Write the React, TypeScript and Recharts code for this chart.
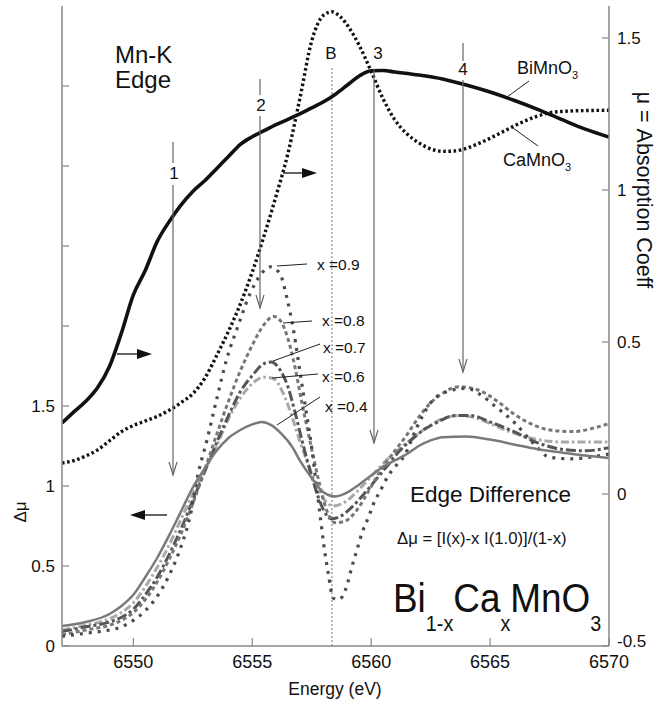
import { LineChart, Line, XAxis, YAxis, ReferenceLine } from "recharts"

// energy axis (eV) and the two vertical scales
const energyTicks = [6550, 6555, 6560, 6565, 6570]
const energyTopTicks = [6550, 6555, 6560, 6565]
const muTicks = [-0.5, 0, 0.5, 1, 1.5]
const deltaTicks = [0, 0.5, 1, 1.5, 2, 2.5, 3, 3.5]
const deltaLabelled = [0, 0.5, 1, 1.5]

// mu (right axis): end members
const biMnO3: [number, number][] = [
  [6547, 0.234], [6547.5, 0.27], [6548, 0.305], [6548.5, 0.35], [6549, 0.42], [6549.5, 0.53],
  [6550, 0.655], [6550.5, 0.735], [6551, 0.83], [6551.5, 0.895], [6552, 0.95], [6552.5, 0.995],
  [6553, 1.03], [6553.5, 1.07], [6554, 1.11], [6554.5, 1.15], [6555, 1.175], [6555.5, 1.195],
  [6556, 1.215], [6556.5, 1.232], [6557, 1.25], [6557.5, 1.27], [6558, 1.29], [6558.5, 1.315],
  [6559, 1.345], [6559.5, 1.375], [6560, 1.392], [6560.5, 1.393], [6561, 1.388], [6562, 1.378],
  [6563, 1.365], [6564, 1.345], [6565, 1.322], [6566, 1.295], [6567, 1.265], [6568, 1.232],
  [6569, 1.2], [6570, 1.174],
]

const caMnO3: [number, number][] = [
  [6547, 0.102], [6547.5, 0.11], [6548, 0.125], [6548.5, 0.145], [6549, 0.175], [6549.5, 0.205],
  [6550, 0.225], [6550.5, 0.24], [6551, 0.255], [6551.5, 0.275], [6552, 0.3], [6552.5, 0.33],
  [6553, 0.38], [6553.5, 0.455], [6554, 0.535], [6554.5, 0.625], [6555, 0.73], [6555.5, 0.85],
  [6556, 0.98], [6556.5, 1.12], [6557, 1.3], [6557.5, 1.49], [6558, 1.575], [6558.35, 1.586],
  [6558.7, 1.57], [6559.1, 1.53], [6559.5, 1.475], [6560, 1.39], [6560.5, 1.3], [6561, 1.23],
  [6561.5, 1.185], [6562, 1.155], [6562.5, 1.135], [6563, 1.127], [6563.5, 1.128], [6564, 1.137],
  [6564.5, 1.152], [6565, 1.17], [6565.5, 1.19], [6566, 1.21], [6566.5, 1.228], [6567, 1.243],
  [6567.5, 1.254], [6568, 1.258], [6569, 1.261], [6570, 1.262],
]

// delta mu (left axis): edge differences
const dmu09: [number, number][] = [
  [6547, 0.06], [6548, 0.08], [6549, 0.1], [6549.5, 0.12], [6550, 0.16], [6550.5, 0.22],
  [6551, 0.31], [6551.5, 0.44], [6552, 0.62], [6552.4, 0.82], [6552.7, 1.06], [6553.1, 1.29],
  [6553.5, 1.54], [6553.9, 1.78], [6554.4, 2.0], [6554.9, 2.2], [6555.4, 2.33], [6555.75, 2.37],
  [6556.15, 2.33], [6556.45, 2.18], [6556.75, 1.96], [6557, 1.72], [6557.25, 1.48], [6557.5, 1.24],
  [6557.7, 1.0], [6557.85, 0.82], [6558, 0.64], [6558.2, 0.45], [6558.4, 0.3], [6558.6, 0.29],
  [6558.8, 0.31], [6559, 0.39], [6559.2, 0.5], [6559.4, 0.6], [6559.6, 0.7], [6559.9, 0.81],
  [6560.1, 0.89], [6560.4, 0.975], [6560.7, 1.06], [6561, 1.12], [6561.4, 1.19], [6561.9, 1.36],
  [6562.5, 1.52], [6563.2, 1.59], [6564, 1.61], [6564.7, 1.56], [6565.2, 1.5], [6566, 1.4],
  [6566.8, 1.27], [6567.5, 1.18], [6568.4, 1.17], [6569.2, 1.18], [6570, 1.2],
]

const dmu08: [number, number][] = [
  [6547, 0.07], [6548, 0.1], [6549, 0.13], [6549.5, 0.16], [6550, 0.21], [6550.5, 0.29],
  [6551, 0.4], [6551.5, 0.54], [6552, 0.7], [6552.5, 0.89], [6553, 1.1], [6553.5, 1.32],
  [6554, 1.53], [6554.5, 1.72], [6555, 1.88], [6555.5, 2.01], [6555.9, 2.06], [6556.2, 2.03],
  [6556.5, 1.92], [6556.8, 1.74], [6557.1, 1.51], [6557.4, 1.3], [6557.8, 1.03], [6558.1, 0.86],
  [6558.5, 0.77], [6558.9, 0.78], [6559.4, 0.85], [6559.9, 0.97], [6560.4, 1.1], [6561, 1.22],
  [6561.5, 1.32], [6562, 1.43], [6562.5, 1.52], [6563, 1.58], [6563.7, 1.62], [6564.5, 1.6],
  [6565.3, 1.53], [6566, 1.45], [6566.7, 1.39], [6567.5, 1.35], [6568.5, 1.34], [6569.3, 1.36],
  [6570, 1.39],
]

const dmu07: [number, number][] = [
  [6547, 0.09], [6548, 0.12], [6549, 0.15], [6549.5, 0.18], [6550, 0.23], [6550.5, 0.32],
  [6551, 0.43], [6551.5, 0.57], [6552, 0.73], [6552.5, 0.91], [6553, 1.09], [6553.5, 1.27],
  [6554, 1.44], [6554.5, 1.59], [6555, 1.69], [6555.5, 1.765], [6555.8, 1.775], [6556.1, 1.74],
  [6556.5, 1.62], [6556.8, 1.46], [6557.1, 1.28], [6557.5, 1.06], [6558, 0.85], [6558.3, 0.795],
  [6558.7, 0.81], [6559.2, 0.87], [6559.7, 0.95], [6560.2, 1.04], [6560.7, 1.13], [6561.2, 1.22],
  [6561.7, 1.29], [6562.2, 1.35], [6562.8, 1.4], [6563.5, 1.44], [6564.2, 1.44], [6565, 1.4],
  [6566, 1.34], [6567, 1.27], [6568, 1.23], [6569, 1.22], [6570, 1.24],
]

const dmu06: [number, number][] = [
  [6547, 0.1], [6548, 0.13], [6549, 0.17], [6549.5, 0.21], [6550, 0.27], [6550.5, 0.37],
  [6551, 0.49], [6551.5, 0.63], [6552, 0.79], [6552.5, 0.95], [6553, 1.1], [6553.5, 1.25],
  [6554, 1.42], [6554.5, 1.55], [6555, 1.64], [6555.5, 1.68], [6555.9, 1.67], [6556.3, 1.58],
  [6556.7, 1.42], [6557, 1.28], [6557.5, 1.08], [6558, 0.92], [6558.4, 0.875], [6559, 0.91],
  [6559.5, 0.98], [6560, 1.06], [6560.5, 1.14], [6561, 1.21], [6561.5, 1.27], [6562, 1.33],
  [6562.5, 1.38], [6563, 1.42], [6563.7, 1.44], [6564.5, 1.42], [6565, 1.39], [6566, 1.33],
  [6567, 1.29], [6568, 1.275], [6569, 1.275], [6570, 1.275],
]

const dmu04: [number, number][] = [
  [6547, 0.125], [6548, 0.15], [6549, 0.2], [6549.5, 0.25], [6550, 0.32], [6550.5, 0.43],
  [6551, 0.55], [6551.5, 0.69], [6552, 0.84], [6552.5, 0.99], [6553, 1.11], [6553.5, 1.22],
  [6554, 1.3], [6554.5, 1.35], [6555, 1.385], [6555.4, 1.4], [6555.8, 1.38], [6556.2, 1.33],
  [6556.7, 1.24], [6557, 1.16], [6557.5, 1.05], [6558, 0.96], [6558.5, 0.935], [6559, 0.96],
  [6559.5, 1.01], [6560, 1.065], [6560.5, 1.12], [6561, 1.16], [6561.5, 1.2], [6562, 1.25],
  [6562.5, 1.285], [6563, 1.305], [6564, 1.31], [6565, 1.29], [6566, 1.26], [6567, 1.23],
  [6568, 1.21], [6569, 1.19], [6570, 1.175],
]

const toRows = (pts: [number, number][]) => pts.map(([e, v]) => ({ e, v }))

const curves = [
  { key: "x06", pts: dmu06, axis: "d", stroke: "#a8a8a8", w: 3, dash: "8 3 2.5 3" },
  { key: "x07", pts: dmu07, axis: "d", stroke: "#555", w: 3, dash: "10 3 3 3" },
  { key: "x08", pts: dmu08, axis: "d", stroke: "#777", w: 3, dash: "4 3" },
  { key: "x09", pts: dmu09, axis: "d", stroke: "#4a4a4a", w: 3.2, dash: "3 6" },
  { key: "x04", pts: dmu04, axis: "d", stroke: "#7a7a7a", w: 2.5, dash: undefined },
  { key: "ca", pts: caMnO3, axis: "mu", stroke: "#111", w: 3.4, dash: "2.6 2.6" },
  { key: "bi", pts: biMnO3, axis: "mu", stroke: "#111", w: 3.6, dash: undefined },
]

const FONT = "'Liberation Sans', Arial, Helvetica, sans-serif"
const AXIS = "#888"

function Tick(props: any) {
  const { x, y, payload, side, gap, len, labels } = props
  const v = payload.value
  const show = labels ? labels.includes(v) : true
  const txt = String(v)
  const common = { fontFamily: FONT, fontSize: 17, fill: "#111" }
  if (side === "left") {
    const ax = x + gap
    return (
      <g>
        <line x1={ax} y1={y} x2={ax + len} y2={y} stroke={AXIS} strokeWidth={1.2} />
        {show && <text x={x} y={y} dy={6} textAnchor="end" {...common}>{txt}</text>}
      </g>
    )
  }
  if (side === "right") {
    const ax = x - gap
    // the lowest label sits a little higher so it clears the last energy label
    const dy = v === muTicks[0] ? 1 : 6
    return (
      <g>
        <line x1={ax} y1={y} x2={ax - len} y2={y} stroke={AXIS} strokeWidth={1.2} />
        {show && <text x={x} y={y} dy={dy} textAnchor="start" {...common}>{txt}</text>}
      </g>
    )
  }
  if (side === "bottom") {
    const ay = y - gap
    return (
      <g>
        <line x1={x} y1={ay} x2={x} y2={ay - len} stroke={AXIS} strokeWidth={1.2} />
        {show && <text x={x} y={y} dy={15} textAnchor="middle" {...common} fontSize={18}>{txt}</text>}
      </g>
    )
  }
  const ay = y + gap
  return <line x1={x} y1={ay} x2={x} y2={ay + len} stroke={AXIS} strokeWidth={1.2} />
}

function VArrow({ x, parts, label, lx, ly }: { x: number; parts: [number, number][]; label: string; lx: number; ly: number }) {
  const end = parts[parts.length - 1][1]
  return (
    <g>
      {parts.map(([a, b], i) => (
        <line key={i} x1={x} y1={a} x2={x} y2={b} stroke="#666" strokeWidth={1.2} />
      ))}
      <polyline points={`${x - 4},${end - 13} ${x},${end} ${x + 4},${end - 13}`} fill="none" stroke="#666" strokeWidth={1.2} />
      <text x={lx} y={ly} textAnchor="middle" fontFamily={FONT} fontSize={17} fill="#111">{label}</text>
    </g>
  )
}

function HArrow({ x1, x2, y }: { x1: number; x2: number; y: number }) {
  const dir = x2 > x1 ? 1 : -1
  const base = x2 - dir * 15
  return (
    <g>
      <line x1={x1} y1={y} x2={base} y2={y} stroke="#222" strokeWidth={1.4} />
      <polygon points={`${base},${y - 5} ${x2},${y} ${base},${y + 5}`} fill="#111" />
    </g>
  )
}

function Annotations() {
  const t = { fontFamily: FONT, fill: "#111" }
  return (
    <svg width={670} height={702} style={{ position: "absolute", left: 0, top: 0, pointerEvents: "none" }}>
      <text x={115} y={63} fontSize={24} {...t}>Mn-K</text>
      <text x={115} y={88} fontSize={24} {...t}>Edge</text>

      <VArrow x={173} parts={[[142, 163], [185, 475]]} label="1" lx={174} ly={179} />
      <VArrow x={260} parts={[[79, 95], [116, 308]]} label="2" lx={261} ly={111} />
      <VArrow x={374} parts={[[69, 443]]} label="3" lx={378} ly={59} />
      <VArrow x={463} parts={[[43, 61], [80, 372]]} label="4" lx={463} ly={75} />
      <text x={331} y={59} textAnchor="middle" fontSize={17} {...t}>B</text>

      <HArrow x1={283} x2={317} y={173} />
      <HArrow x1={117} x2={152} y={354} />
      <HArrow x1={167} x2={130} y={515} />

      <text x={517} y={74} fontSize={18} {...t}>BiMnO<tspan fontSize={11} dy={5}>3</tspan></text>
      <line x1={529} y1={81} x2={507} y2={97} stroke="#222" strokeWidth={1} />
      <text x={503} y={166} fontSize={18} {...t}>CaMnO<tspan fontSize={11} dy={5}>3</tspan></text>
      <line x1={513} y1={128} x2={538} y2={146} stroke="#222" strokeWidth={1} />

      <text x={317} y={270} fontSize={15.5} {...t}>x =0.9</text>
      <line x1={277} y1={266} x2={307} y2={264} stroke="#222" strokeWidth={1} />
      <text x={322} y={326} fontSize={15.5} {...t}>x =0.8</text>
      <line x1={283} y1={323} x2={312} y2={321} stroke="#222" strokeWidth={1} />
      <text x={323} y={353} fontSize={15.5} {...t}>x =0.7</text>
      <line x1={273} y1={361} x2={320} y2={344} stroke="#222" strokeWidth={1} />
      <text x={322} y={382} fontSize={15.5} {...t}>x =0.6</text>
      <line x1={272} y1={378} x2={318} y2={374} stroke="#222" strokeWidth={1} />
      <text x={325} y={412} fontSize={15.5} {...t}>x =0.4</text>
      <line x1={277} y1={425} x2={320} y2={397} stroke="#222" strokeWidth={1} />

      <text x={410} y={502} fontSize={22.5} {...t}>Edge Difference</text>
      <text x={397} y={544} fontSize={16.7} {...t}>Δμ = [I(x)-x I(1.0)]/(1-x)</text>
      <g transform="translate(393 612) scale(0.9 1)">
        <text x={0} y={0} fontSize={41} {...t}>
          Bi<tspan fontSize={22} dy={19}>1-x</tspan>
          <tspan dy={-19}>Ca</tspan>
          <tspan fontSize={22} dy={19}>x</tspan>
          <tspan dy={-19}>MnO</tspan>
          <tspan fontSize={22} dy={19}>3</tspan>
        </text>
      </g>

      <text x={335} y={695} textAnchor="middle" fontSize={17.5} {...t}>Energy (eV)</text>
      <text x={26} y={512} textAnchor="middle" fontSize={17} transform="rotate(-90 26 512)" {...t}>Δμ</text>
      <text x={637} y={190} textAnchor="middle" fontSize={21.5} transform="rotate(90 637 190)" {...t}>μ = Absorption Coeff</text>
    </svg>
  )
}

export default function App() {
  return (
    <div style={{ position: "absolute", left: 0, top: 0, width: 670, height: 702, background: "#fff", fontFamily: FONT }}>
      <div style={{ position: "absolute", left: 0, top: 0 }}>
        <LineChart width={670} height={702} margin={{ top: 6, right: 21, bottom: 26, left: 22 }}>
          <XAxis
            xAxisId="e"
            dataKey="e"
            type="number"
            domain={[6547, 6570]}
            ticks={energyTicks}
            interval={0}
            allowDataOverflow
            height={30}
            tickSize={0}
            tickMargin={7}
            tickLine={false}
            axisLine={{ stroke: AXIS, strokeWidth: 1.5 }}
            tick={(p: any) => <Tick {...p} side="bottom" gap={7} len={8} />}
          />
          <XAxis
            xAxisId="top"
            orientation="top"
            type="number"
            domain={[6547, 6570]}
            ticks={energyTopTicks}
            interval={0}
            allowDataOverflow
            height={0}
            tickSize={0}
            tickMargin={0}
            tickLine={false}
            axisLine={{ stroke: AXIS, strokeWidth: 1.5 }}
            tick={(p: any) => <Tick {...p} side="top" gap={0} len={8} />}
          />
          <YAxis
            yAxisId="d"
            type="number"
            domain={[0, 4]}
            ticks={deltaTicks}
            interval={0}
            allowDataOverflow
            width={40}
            tickSize={0}
            tickMargin={7}
            tickLine={false}
            axisLine={{ stroke: AXIS, strokeWidth: 1.5 }}
            tick={(p: any) => <Tick {...p} side="left" gap={7} len={7} labels={deltaLabelled} />}
          />
          <YAxis
            yAxisId="mu"
            orientation="right"
            type="number"
            domain={[-0.5, 1.605]}
            ticks={muTicks}
            interval={0}
            allowDataOverflow
            width={40}
            tickSize={0}
            tickMargin={8}
            tickLine={false}
            axisLine={{ stroke: AXIS, strokeWidth: 1.5 }}
            tick={(p: any) => <Tick {...p} side="right" gap={8} len={7} />}
          />
          <ReferenceLine
            xAxisId="e"
            yAxisId="mu"
            segment={[{ x: 6558.35, y: 1.4 }, { x: 6558.35, y: -0.5 }]}
            stroke="#444"
            strokeWidth={1}
            strokeDasharray="1.5 2.5"
          />
          {curves.map((c) => (
            <Line
              key={c.key}
              data={toRows(c.pts)}
              xAxisId="e"
              yAxisId={c.axis}
              dataKey="v"
              type="monotone"
              stroke={c.stroke}
              strokeWidth={c.w}
              strokeDasharray={c.dash}
              dot={false}
              activeDot={false}
              isAnimationActive={false}
            />
          ))}
        </LineChart>
      </div>
      <Annotations />
    </div>
  )
}
